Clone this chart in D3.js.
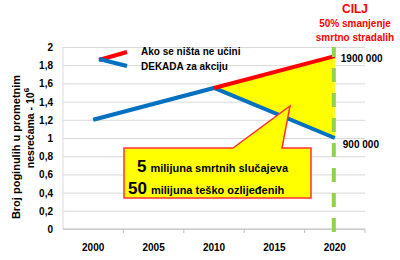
<!DOCTYPE html>
<meta charset="utf-8">
<head>
  <style>
    body { margin: 0; background: #fff; }
    text { font-family: "Liberation Sans", Arial, sans-serif; font-weight: bold; }
    .grid line { stroke: #d9d9d9; stroke-width: 1px; }
    .grid path { display: none; }
  </style>
  <script src="https://d3js.org/d3.v7.min.js"></script>
</head>
<body>
  <svg width="400" height="260"></svg>
  <script>
    var years = ["2000", "2005", "2010", "2015", "2020"];
    var yTicks = [0, 0.2, 0.4, 0.6, 0.8, 1, 1.2, 1.4, 1.6, 1.8, 2];
    // "Ako se ništa ne učini"
    var noActionYears = ["2010", "2020"];
    var noActionValues = [1.55, 1.9];
    // "DEKADA za akciju"
    var decadeYears = ["2000", "2010", "2020"];
    var decadeValues = [1.2, 1.55, 1.0];

    var svg = d3.select("svg");
    var margin = { left: 63, right: 35, top: 47, bottom: 31 };
    var width = 400 - margin.left - margin.right,
      height = 260 - margin.top - margin.bottom;

    var g = svg.append("g").attr("transform", "translate(" + margin.left + "," + margin.top + ")");

    var x = d3.scaleBand().domain(years).range([0, width]);
    var y = d3.scaleLinear().domain([0, 2]).range([height, 0]);
    var cx = function(yr) { return x(yr) + x.bandwidth() / 2; };

    // gridlines
    g.append("g")
      .attr("class", "grid")
      .call(d3.axisLeft(y).tickValues(yTicks).tickSize(-width).tickFormat(""));

    g.append("line")
      .attr("x1", 0).attr("x2", 0).attr("y1", 0).attr("y2", height)
      .attr("stroke", "#d9d9d9");

    // y tick labels
    g.selectAll(".ylab")
      .data(yTicks)
      .enter().append("text")
      .attr("x", -10)
      .attr("y", function(d) { return y(d) + 4; })
      .attr("text-anchor", "end")
      .attr("font-size", 10)
      .attr("fill", "#000")
      .text(function(d) { return String(d).replace(".", ","); });

    // x axis
    var xAxis = g.append("g")
      .attr("transform", "translate(0," + height + ")");
    xAxis.append("line")
      .attr("x1", 0).attr("x2", width)
      .attr("stroke", "#bfbfbf");
    xAxis.selectAll(".tk")
      .data(years)
      .enter().append("line")
      .attr("x1", function(d) { return x(d) + x.bandwidth(); })
      .attr("x2", function(d) { return x(d) + x.bandwidth(); })
      .attr("y1", 0).attr("y2", 4)
      .attr("stroke", "#bfbfbf");
    xAxis.selectAll(".xl")
      .data(years)
      .enter().append("text")
      .attr("x", cx)
      .attr("y", 22)
      .attr("text-anchor", "middle")
      .attr("font-size", 10)
      .text(function(d) { return d; });

    // yellow area between the two scenarios
    var tri = [
      [cx("2010"), y(noActionValues[0])],
      [cx("2020"), y(noActionValues[1])],
      [cx("2020"), y(decadeValues[2])]
    ];
    g.append("path")
      .attr("d", "M" + tri.join("L") + "Z")
      .attr("fill", "#ffff00");

    var line = d3.line()
      .x(function(d) { return cx(d[0]); })
      .y(function(d) { return y(d[1]); });

    g.append("path")
      .datum(d3.zip(decadeYears, decadeValues))
      .attr("d", line)
      .attr("fill", "none")
      .attr("stroke", "#0070c0")
      .attr("stroke-width", 4);

    g.append("path")
      .datum(d3.zip(noActionYears, noActionValues))
      .attr("d", line)
      .attr("fill", "none")
      .attr("stroke", "#ff0000")
      .attr("stroke-width", 4);

    // target line 2020
    g.append("line")
      .attr("x1", cx("2020") - 1).attr("x2", cx("2020") - 1)
      .attr("y1", 0).attr("y2", height + 6)
      .attr("stroke", "#92d050")
      .attr("stroke-width", 4)
      .attr("stroke-dasharray", "14,11")
      .attr("stroke-dashoffset", 4);

    g.append("text")
      .attr("x", cx("2020") + 6)
      .attr("y", y(noActionValues[1]) + 6)
      .attr("font-size", 10)
      .text("1900 000");
    g.append("text")
      .attr("x", cx("2020") + 8)
      .attr("y", y(decadeValues[2]) + 10)
      .attr("font-size", 10)
      .text("900 000");

    // goal
    var goal = svg.append("g").attr("fill", "#ff0000").attr("text-anchor", "middle");
    goal.append("text").attr("x", 355).attr("y", 13).attr("font-size", 12).text("CILJ");
    goal.append("text").attr("x", 355).attr("y", 27).attr("font-size", 10).text("50% smanjenje");
    goal.append("text").attr("x", 355).attr("y", 41).attr("font-size", 10).text("smrtno stradalih");

    // legend
    svg.append("line").attr("x1", 99).attr("y1", 60).attr("x2", 127).attr("y2", 52)
      .attr("stroke", "#ff0000").attr("stroke-width", 4);
    svg.append("line").attr("x1", 99).attr("y1", 59).attr("x2", 127).attr("y2", 66)
      .attr("stroke", "#0070c0").attr("stroke-width", 4);
    svg.append("text").attr("x", 141).attr("y", 55).attr("font-size", 10).text("Ako se ništa ne učini");
    svg.append("text").attr("x", 141).attr("y", 70).attr("font-size", 10).text("DEKADA za akciju");

    // callout
    var bx = 124, by = 148, bw = 187, bh = 50;
    svg.append("path")
      .attr("d", "M" + bx + "," + by + "H233L290,106L282," + by + "H" + (bx + bw) + "V" + (by + bh) + "H" + bx + "Z")
      .attr("fill", "#ffff00")
      .attr("stroke", "#ff3333")
      .attr("stroke-width", 1.5);
    var t1 = svg.append("text").attr("x", 137).attr("y", 172).attr("font-size", 11);
    t1.append("tspan").attr("font-size", 17).text("5");
    t1.append("tspan").attr("dx", 4).text("milijuna smrtnih slučajeva");
    var t2 = svg.append("text").attr("x", 128).attr("y", 194).attr("font-size", 11);
    t2.append("tspan").attr("font-size", 17).text("50");
    t2.append("tspan").attr("dx", 4).text("milijuna teško ozlijeđenih");

    // y axis title
    var yt = svg.append("g").attr("transform", "translate(20,147) rotate(-90)");
    yt.append("text").attr("text-anchor", "middle").attr("font-size", 11)
      .text("Broj poginulih u prometnim");
    var yt2 = yt.append("text").attr("text-anchor", "middle").attr("y", 14).attr("x", 19).attr("font-size", 10.5);
    yt2.append("tspan").text("nesrećama - 10");
    yt2.append("tspan").attr("font-size", 8).attr("dy", -5).text("6");
  </script>
</body>
